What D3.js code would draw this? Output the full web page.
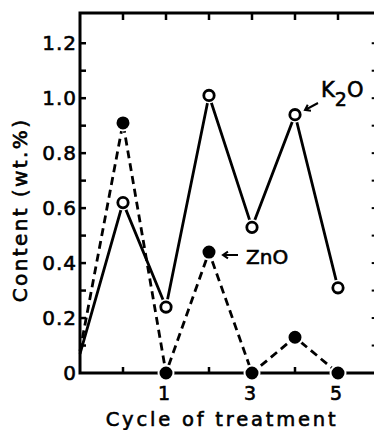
<!DOCTYPE html>
<html>
<head>
<meta charset="utf-8">
<script src="https://cdn.jsdelivr.net/npm/d3@7"></script>
<style>
  body { margin: 0; background: #fff; }
  text { font-family: "DejaVu Sans", sans-serif; fill: #000; stroke: #000; stroke-width: 0.6px; }
</style>
</head>
<body>
<script>
let w = 374;
let h = 430;

// cycle -1 is the untreated start, drawn on the left axis
let cycles = [-1, 0, 1, 2, 3, 4, 5];
let k2o = [0.07, 0.62, 0.24, 1.01, 0.53, 0.94, 0.31];
let zno = [0.08, 0.91, 0, 0.44, 0, 0.13, 0];
let yTickLabels = ["0", "0.2", "0.4", "0.6", "0.8", "1.0", "1.2"];
let xTickLabels = ["1", "3", "5"];

let x = d3.scaleLinear().domain([-1, 6]).range([80, 381]);
let y = d3.scaleLinear().domain([0, 1.31]).range([373, 13]);

let svg = d3.select("body")
    .append("svg")
    .attr("width", w)
    .attr("height", h);

let xLeft = x(-1), xRight = x(5.9);
let yBot = y(0), yTop = y(1.31);

// frame
svg.append("path")
    .attr("d", `M${xRight},${yTop}H${xLeft}V${yBot}H${xRight}V${yTop}`)
    .attr("fill", "none")
    .attr("stroke", "#000")
    .attr("stroke-width", 3);

// minor ticks every 0.1 on left and right
let yTicks = d3.range(1, 13).map(d => d / 10);
svg.selectAll(".lt")
    .data(yTicks)
    .enter()
    .append("line")
    .attr("x1", xLeft).attr("x2", xLeft + 6)
    .attr("y1", d => y(d)).attr("y2", d => y(d))
    .attr("stroke", "#000").attr("stroke-width", 2.5);
svg.selectAll(".rt")
    .data(yTicks)
    .enter()
    .append("line")
    .attr("x1", xRight).attr("x2", xRight - 5)
    .attr("y1", d => y(d)).attr("y2", d => y(d))
    .attr("stroke", "#000").attr("stroke-width", 2);

// top and bottom ticks
let xTicks = [0, 1, 2, 3, 4, 5];
svg.selectAll(".tt")
    .data(xTicks)
    .enter()
    .append("line")
    .attr("x1", d => x(d)).attr("x2", d => x(d))
    .attr("y1", yTop).attr("y2", yTop + 7)
    .attr("stroke", "#000").attr("stroke-width", 2.5);
svg.selectAll(".bt")
    .data(xTicks)
    .enter()
    .append("line")
    .attr("x1", d => x(d)).attr("x2", d => x(d))
    .attr("y1", yBot).attr("y2", yBot - 6)
    .attr("stroke", "#000").attr("stroke-width", 2.5);

// y tick labels
svg.selectAll(".yl")
    .data(yTickLabels)
    .enter()
    .append("text")
    .attr("x", xLeft - 3)
    .attr("y", (d) => y(+d) + 7)
    .attr("text-anchor", "end")
    .style("font-size", "20px")
    .style("letter-spacing", "1px")
    .text(d => d);

// x tick labels
svg.selectAll(".xl")
    .data(xTickLabels)
    .enter()
    .append("text")
    .attr("x", d => x(+d) - 2)
    .attr("y", 400)
    .attr("text-anchor", "middle")
    .style("font-size", "19px")
    .text(d => d);

svg.append("text")
    .attr("x", 222)
    .attr("y", 426)
    .attr("text-anchor", "middle")
    .style("font-size", "19.5px")
    .style("letter-spacing", "2.8px")
    .text("Cycle of treatment");

svg.append("text")
    .attr("transform", "translate(27,210) rotate(-90)")
    .attr("text-anchor", "middle")
    .style("font-size", "20px")
    .style("letter-spacing", "2.4px")
    .text("Content (wt.%)");

let line = d3.line()
    .x((d, i) => x(cycles[i]))
    .y(d => y(d));

svg.append("path")
    .attr("d", line(zno))
    .attr("fill", "none")
    .attr("stroke", "#000")
    .attr("stroke-width", 2.8)
    .attr("stroke-dasharray", "8,5");

svg.append("path")
    .attr("d", line(k2o))
    .attr("fill", "none")
    .attr("stroke", "#000")
    .attr("stroke-width", 2.8);

let pts = cycles.map((c, i) => i).filter(i => cycles[i] >= 0);

// filled ZnO markers with a white halo
svg.selectAll(".zn")
    .data(pts)
    .enter()
    .append("circle")
    .attr("cx", i => x(cycles[i]))
    .attr("cy", i => y(zno[i]))
    .attr("r", 7.5)
    .attr("fill", "#000")
    .attr("stroke", "#fff")
    .attr("stroke-width", 2);

// open K2O markers
svg.selectAll(".k")
    .data(pts)
    .enter()
    .append("circle")
    .attr("cx", i => x(cycles[i]))
    .attr("cy", i => y(k2o[i]))
    .attr("r", 8)
    .attr("fill", "#fff");
svg.selectAll(".k2")
    .data(pts)
    .enter()
    .append("circle")
    .attr("cx", i => x(cycles[i]))
    .attr("cy", i => y(k2o[i]))
    .attr("r", 5.2)
    .attr("fill", "#fff")
    .attr("stroke", "#000")
    .attr("stroke-width", 2.8);

// labels with arrows
function arrow(x1, y1, x2, y2) {
    let a = Math.atan2(y2 - y1, x2 - x1);
    let l = 6;
    svg.append("path")
        .attr("d", `M${x1},${y1}L${x2},${y2}` +
            `M${x2 - l * Math.cos(a - 0.6)},${y2 - l * Math.sin(a - 0.6)}L${x2},${y2}` +
            `L${x2 - l * Math.cos(a + 0.6)},${y2 - l * Math.sin(a + 0.6)}`)
        .attr("fill", "none")
        .attr("stroke", "#000")
        .attr("stroke-width", 2);
}

let kl = svg.append("text")
    .attr("x", 321)
    .attr("y", 97)
    .style("font-size", "21px");
kl.append("tspan").text("K");
kl.append("tspan").attr("dy", 9).style("font-size", "19px").text("2");
kl.append("tspan").attr("dy", -9).text("O");
arrow(318, 103, 305, 110);

svg.append("text")
    .attr("x", 246)
    .attr("y", 264)
    .style("font-size", "20px")
    .text("ZnO");
arrow(238, 255, 223, 255);
</script>
</body>
</html>
